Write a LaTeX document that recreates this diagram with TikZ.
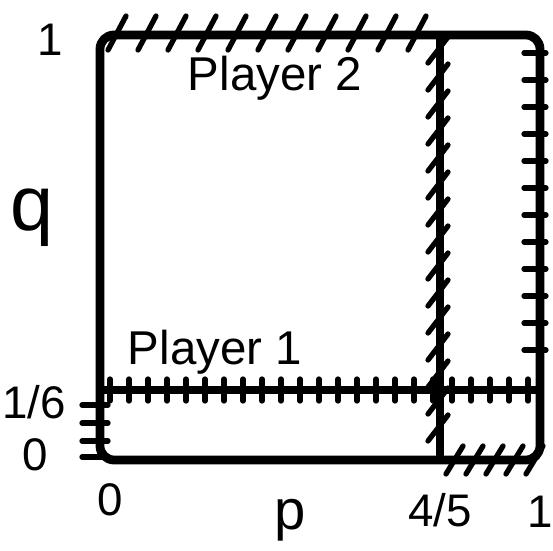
\documentclass[tikz,border=0pt]{standalone}
\usepackage{fontspec}
\setmainfont{Liberation Sans}
\usetikzlibrary{positioning}

\begin{document}
\begin{tikzpicture}[
  x=0.2mm, y=-0.2mm,
  frame/.style={line width=5pt, rounded corners=8pt},
  resp/.style={line width=4pt},
  hatch/.style={line width=3pt, line cap=round},
  tick/.style={font=\fontsize{26}{26}\selectfont},
  who/.style={font=\fontsize{27}{27}\selectfont}
]
\useasboundingbox (0,0) rectangle (553,550);

\coordinate (ll) at (100,460);
\coordinate (ur) at (540,35);
\coordinate (ptop) at (440,35);
\coordinate (pbot) at (440,460);
\coordinate (qleft) at (100,390);
\coordinate (qright) at (540,390);

% unit square and the two cut lines
\draw[frame] (ll) rectangle (ur);
\draw[resp] (ptop) -- (pbot);
\draw[resp] (qleft) -- (qright);

% player 2 best response
\foreach \x in {118,148,...,428}
  \draw[hatch] (\x-10,50) -- (\x+8,16);
\foreach \y in {50,77,...,450}
  \draw[hatch] (428,\y+13) -- (448,\y-13);
\foreach \x in {455,475,...,535}
  \draw[hatch] (\x-9,474) -- (\x+8,446);

% player 1 best response
\foreach \y in {405,423,441,457}
  \draw[hatch] (82,\y) -- (108,\y);
\foreach \x in {110,129,...,530}
  \draw[hatch] (\x,379) -- (\x,401);
\foreach \y in {53,80,...,370}
  \draw[hatch] (524,\y) -- (546,\y);

% labels
\node[who] (p2) at (275,78) {Player 2};
\node[who] (p1) at (215,352) {Player 1};
\node[tick] (qone) at (50,40) {1};
\node[font=\fontsize{44}{44}\selectfont] (qlab) at (32,218) {q};
\node[tick] (qsixth) at (34,402) {1/6};
\node[tick] (qzero) at (35,455) {0};
\node[tick] (pzero) at (110,500) {0};
\node[font=\fontsize{32}{32}\selectfont] (plab) at (290,520) {p};
\node[tick] (pfifth) at (440,510) {4/5};
\node[tick] (pone) at (540,512) {1};
\end{tikzpicture}
\end{document}
